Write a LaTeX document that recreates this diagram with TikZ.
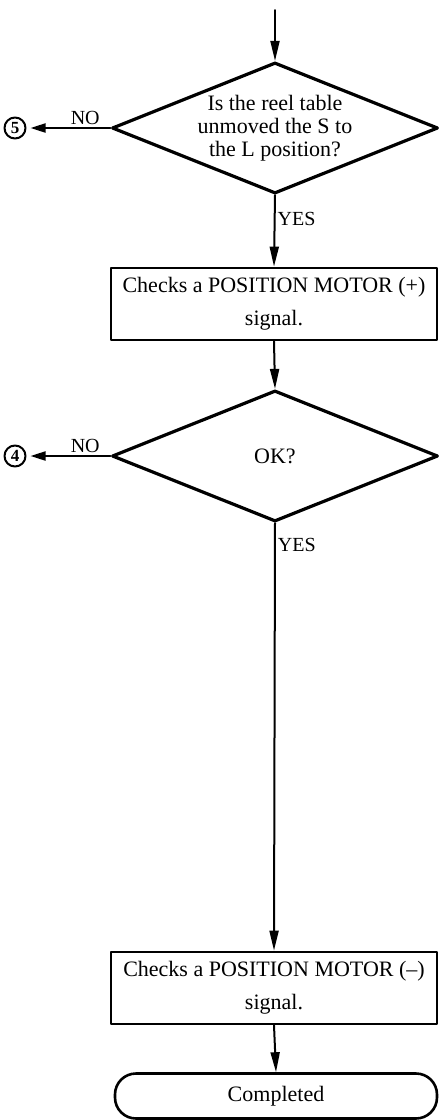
\documentclass[tikz,border=0pt]{standalone}
\usepackage{fontspec}
\setmainfont{Liberation Serif}
\usetikzlibrary{arrows.meta,shapes.geometric}
\begin{document}
\begin{tikzpicture}[x=1pt,y=-1pt,line cap=round,line join=round,
  >={Triangle[length=20pt,width=9pt]},
  decision/.style={draw,diamond,line width=3.2pt,inner sep=0pt,shape aspect=2.5,
    minimum width=326pt,minimum height=131pt,align=center,
    font=\fontsize{22}{23}\selectfont},
  process/.style={draw,rectangle,line width=2.8pt,minimum width=326pt,
    minimum height=72pt,align=center,font=\fontsize{22}{23}\selectfont},
  terminal/.style={draw,rectangle,rounded corners=21pt,line width=2.6pt,
    minimum width=322pt,minimum height=45pt,font=\fontsize{22}{23}\selectfont},
  conn/.style={draw,circle,line width=2pt,inner sep=0pt,minimum size=21pt,
    font=\fontsize{17}{17}\selectfont\bfseries},
  flow/.style={line width=2pt,->},
  tag/.style={font=\fontsize{20}{20}\selectfont,inner sep=2pt}]
  \useasboundingbox (0,0) rectangle (441,1120);
  \coordinate (entry) at (275,10);
  \node[decision] (reel) at (275,128) {Is the reel table\\unmoved the S to\\the L position?};
  \node[conn] (c5) at (15,128) {5};
  \node[process] (plus) at (274,304) {Checks a POSITION MOTOR (+)\\[10pt]signal.};
  \node[decision] (ok) at (275,456) {OK?};
  \node[conn] (c4) at (15,456) {4};
  \node[process] (minus) at (274,988) {Checks a POSITION MOTOR (--)\\[10pt]signal.};
  \node[terminal] (done) at (276,1096) {Completed};
  % main line
  \draw[flow] (entry) -- (reel.north);
  \draw[flow] (reel.south) -- node[tag,right,pos=0.33] {YES} (plus.north);
  \draw[flow] (plus.south) -- (ok.north);
  \draw[flow] (ok.south) -- node[tag,right,pos=0.05] {YES} (minus.north);
  \draw[flow] (minus.south) -- (done.north);
  % exits
  \draw[flow,>={Triangle[length=15pt,width=9pt]},shorten >=4pt] (reel.west) -- node[tag,above,pos=0.3] {NO} (c5.east);
  \draw[flow,>={Triangle[length=15pt,width=9pt]},shorten >=4pt] (ok.west) -- node[tag,above,pos=0.3] {NO} (c4.east);
\end{tikzpicture}
\end{document}
